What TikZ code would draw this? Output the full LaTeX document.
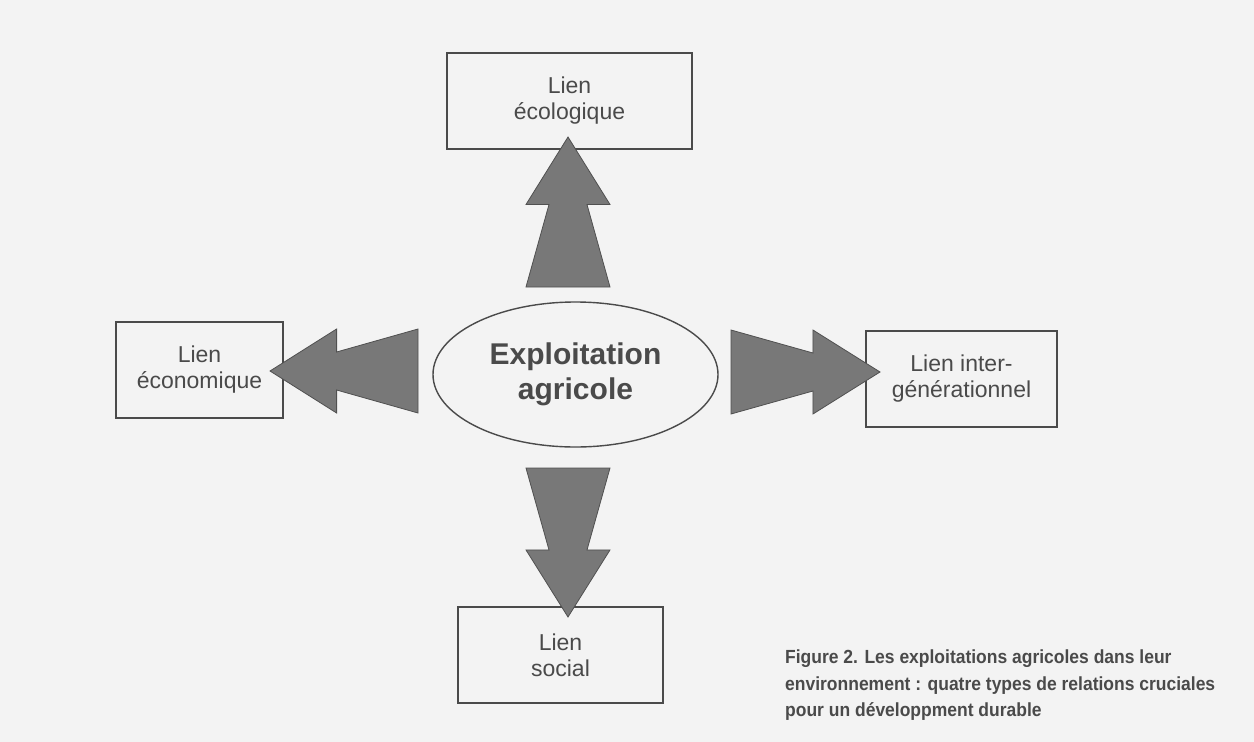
\documentclass[tikz,border=0pt]{standalone}
\usepackage{fontspec}
\setmainfont{Liberation Sans}
\newfontfamily\capfont[FakeStretch=0.92]{Liberation Sans}
\usepackage{xcolor}
\usepackage{tikz}
\usetikzlibrary{calc,shapes.geometric}
\definecolor{paper}{HTML}{F3F3F3}
\definecolor{ink}{HTML}{4A4A4A}
\definecolor{shade}{HTML}{787878}
\definecolor{edge}{HTML}{505050}
\tikzset{
  lien/.style={draw=ink, line width=1.2pt, text=ink, align=center, inner sep=0pt,
    minimum height=96pt, font=\fontsize{23}{26}\selectfont},
  hub/.style={ellipse, draw=ink, line width=1.4pt, text=ink, align=center, inner sep=0pt,
    minimum width=285pt, minimum height=145pt, font=\fontsize{30}{35}\selectfont\bfseries},
  blk/.style={fill=shade, draw=edge, line width=0.8pt, line join=miter},
  figcap/.style={text=ink, align=left, anchor=north west, inner sep=0pt,
    font=\capfont\fontsize{19}{26.5}\selectfont\bfseries}
}
% double-headed block arrow: #1 base, #2 tip
\newcommand\bigarrow[2]{%
  \coordinate (mid) at ($(#2)!0.45!(#1)$);
  \draw[blk] (#2) -- ($(mid)!42pt!90:(#2)$) -- ($(mid)!19pt!90:(#2)$) -- ($(#1)!42pt!90:(#2)$)
    -- ($(#1)!42pt!-90:(#2)$) -- ($(mid)!19pt!-90:(#2)$) -- ($(mid)!42pt!-90:(#2)$) -- cycle;
}

\begin{document}
\begin{tikzpicture}[x=1pt, y=-1pt]
  \fill[paper] (0,0) rectangle (1254,742);
  \useasboundingbox (0,0) rectangle (1254,742);

  \node[hub] (farm) at (575.5,374.5) {Exploitation\\agricole};
  \node[lien, minimum width=245pt] (eco) at (569.5,101) {Lien\\écologique};
  \node[lien, minimum width=167pt] (econ) at (199.5,370) {Lien\\économique};
  \node[lien, minimum width=191pt] (gen) at (961.5,379) {Lien inter-\\générationnel};
  \node[lien, minimum width=205pt] (soc) at (560.5,655) {Lien\\social};

  \coordinate (upB) at (568,287);  \coordinate (upT) at (568,137);
  \coordinate (lfB) at (418,371);  \coordinate (lfT) at (270,371);
  \coordinate (rtB) at (731,372);  \coordinate (rtT) at (880,372);
  \coordinate (dnB) at (568,468);  \coordinate (dnT) at (568,617);

  \bigarrow{upB}{upT}
  \bigarrow{lfB}{lfT}
  \bigarrow{rtB}{rtT}
  \bigarrow{dnB}{dnT}

  \node[figcap] (title) at (785,650) {Figure 2. Les exploitations agricoles dans leur\\
    environnement : quatre types de relations cruciales\\
    pour un développment durable};
\end{tikzpicture}
\end{document}
